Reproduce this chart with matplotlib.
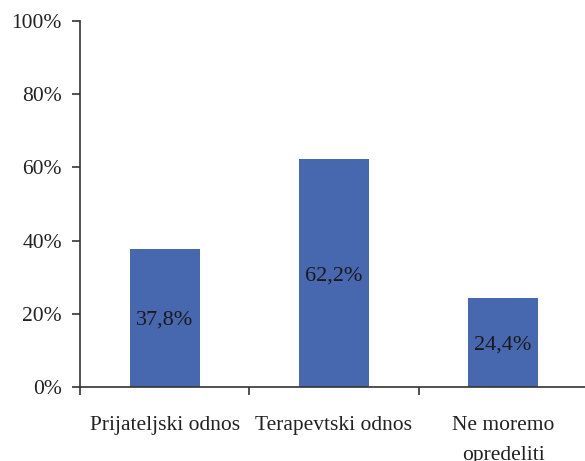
import matplotlib.pyplot as plt
import matplotlib.ticker as ticker

plt.rcParams['font.family'] = ['Liberation Serif', 'DejaVu Serif']

categories = ['Prijateljski odnos', 'Terapevtski odnos', 'Ne moremo\nopredeliti']
values = [37.8, 62.2, 24.4]
labels = ['37,8%', '62,2%', '24,4%']
y_ticks = [0, 20, 40, 60, 80, 100]

fig = plt.figure(figsize=(5.85, 4.61), dpi=100)
ax = fig.add_axes([0.1368, 0.1605, 0.868, 0.7939])

x = list(range(len(categories)))
bars = ax.bar(x, values, width=0.414, color='#4767AF', zorder=2)

# value labels centred inside each bar
for b, v, t in zip(bars, values, labels):
    ax.text(b.get_x() + b.get_width() / 2, v / 2, t, ha='center',
            va='center_baseline', fontsize=16, color='#1a1a1a')

ax.set_xlim(-0.5, len(categories) - 0.5)
ax.set_ylim(0, 100)
ax.set_yticks(y_ticks)
ax.yaxis.set_major_formatter(ticker.FuncFormatter(lambda v, p: f'{v:.0f}%'))

# category names at centres, tick marks at the boundaries
ax.set_xticks(x)
ax.set_xticklabels(categories, fontsize=15.5, linespacing=1.75)
ax.tick_params(axis='x', which='major', length=0, pad=21, colors='#222222')
ax.set_xticks([i - 0.5 for i in range(len(categories) + 1)], minor=True)
ax.tick_params(axis='x', which='minor', length=6, width=1.2, color='#333333')
ax.tick_params(axis='y', length=6, width=1.2, pad=7, labelsize=15.5,
               color='#333333', labelcolor='#222222')

for s in ['top', 'right']:
    ax.spines[s].set_visible(False)
for s in ['left', 'bottom']:
    ax.spines[s].set_color('#333333')
    ax.spines[s].set_linewidth(1.2)

fig.savefig('out.png', dpi=100)
